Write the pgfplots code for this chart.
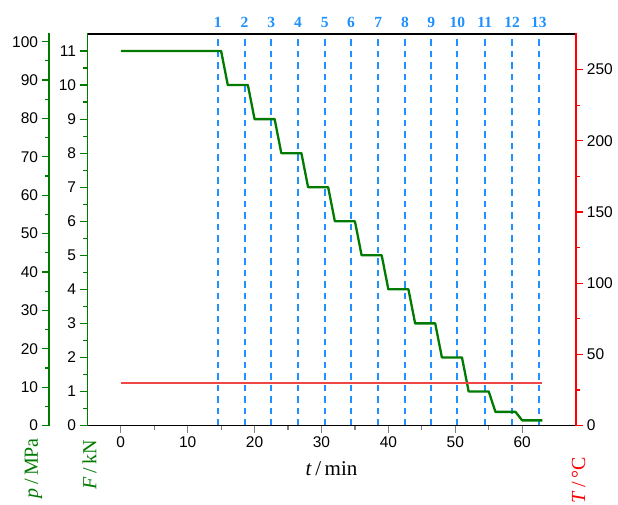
\documentclass[border=0pt]{standalone}
\usepackage{fontspec}
\setmainfont{Liberation Serif}
\setsansfont{Liberation Sans}
\usepackage{pgfplots}
\pgfplotsset{compat=1.18}

\definecolor{fgreen}{RGB}{0,122,0}
\definecolor{dblue}{RGB}{30,144,255}
\definecolor{tred}{RGB}{255,0,0}
\definecolor{lred}{RGB}{240,70,70}

\pgfplotsset{
  base/.style={
    scale only axis, width=488.4pt, height=391.5pt,
    xmin=-5, xmax=68, ymin=0, clip=false,
    tick align=outside,
    major tick length=7.7pt, minor tick length=4pt,
    axis line style={draw=none},
    tick label style={font=\sffamily\fontsize{15.5}{18}\selectfont, text=black},
    every tick/.append style={line width=1.2pt},
    /pgf/number format/assume math mode=true,
  },
}

\begin{document}
\begin{tikzpicture}
\path[use as bounding box] (-87.3pt,-78.5pt) rectangle (530.7pt,425.5pt);

% F axis (left), time axis, steps and the 13 marked times
\begin{axis}[base, ymax=11.5,
    axis x line*=box, axis y line*=left, xtick pos=lower,
    y tick style={fgreen},
    xtick={0,10,...,60}, minor x tick num=1,
    ytick={0,1,...,11}, minor y tick num=1]
  \addplot[ycomb, dblue, line width=2pt, dash pattern=on 6.5pt off 5pt, mark=none,
      point meta=explicit symbolic, nodes near coords,
      every node near coord/.append style={anchor=base, yshift=6.7pt, inner sep=0pt,
        font=\bfseries\fontsize{15.5}{18}\selectfont, text=dblue}]
    table[meta=n] {
      x    y    n
      14.5 11.5 1
      18.5 11.5 2
      22.5 11.5 3
      26.5 11.5 4
      30.5 11.5 5
      34.4 11.5 6
      38.5 11.5 7
      42.5 11.5 8
      46.4 11.5 9
      50.3 11.5 10
      54.4 11.5 11
      58.5 11.5 12
      62.5 11.5 13
    };
  \addplot[fgreen, line width=2.3pt, line join=round] coordinates {
    (0,11) (15,11) (16,10) (19,10) (20,9) (23,9) (24,8) (27,8)
    (28,7) (31,7) (32,6) (35,6) (36,5) (39,5) (40,4) (43,4)
    (44,3) (47,3) (48,2) (51,2) (52,1) (55,1) (56,0.4) (59,0.4)
    (60,0.15) (63,0.15)
  };
\end{axis}

% T axis (right)
\begin{axis}[base, ymax=275, hide x axis, axis y line*=right,
    y tick style={tred},
    ytick={0,50,...,250}, minor y tick num=1]
  \addplot[lred, line width=2pt] coordinates {(0,30) (63,30)};
\end{axis}

% p axis (offset left)
\begin{axis}[base, at={(-38pt,0pt)}, width=10pt, ymax=102, hide x axis,
    axis y line*=left, y tick style={fgreen},
    ytick={0,10,...,100}, minor y tick num=1]
\end{axis}

% axis lines, as thin filled bars
\fill[black]  (-0.8pt,-0.8pt) rectangle (489.2pt,0.8pt);
\fill[black]  (-0.8pt,390.7pt) rectangle (489.2pt,392.3pt);
\fill[fgreen] (-0.8pt,-0.8pt) rectangle (0.8pt,392.3pt);
\fill[fgreen] (-38.8pt,-0.8pt) rectangle (-37.2pt,392.3pt);
\fill[tred]   (487.6pt,-0.8pt) rectangle (489.2pt,392.3pt);

\node[rotate=90, anchor=base east, inner sep=0pt, text=fgreen,
  font=\fontsize{20}{24}\selectfont] at (-49.3pt,-12.5pt) {\textit{p}\,/\,MPa};
\node[rotate=90, anchor=base east, inner sep=0pt, text=fgreen,
  font=\fontsize{20}{24}\selectfont] at (9.2pt,-14.5pt) {\textit{F}\,/\,kN};
\node[rotate=90, anchor=base east, inner sep=0pt, text=tred,
  font=\fontsize{20}{24}\selectfont] at (497.7pt,-31.5pt) {\textit{T}\,/\,°C};
\node[anchor=base, inner sep=0pt, font=\fontsize{21}{24}\selectfont]
  at (244.2pt,-49.5pt) {\textit{t}\,/\,min};
\end{tikzpicture}
\end{document}
